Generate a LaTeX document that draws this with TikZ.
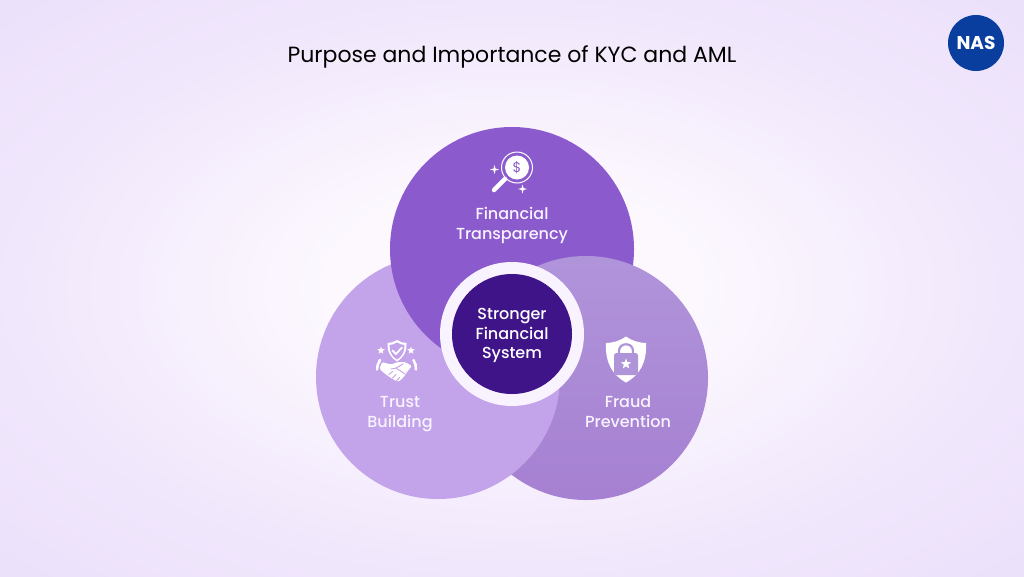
\documentclass[tikz,border=0pt]{standalone}
\usepackage{fontspec}
\setmainfont{Poppins}
\newfontfamily\labelfont{Poppins Medium}
\usetikzlibrary{shapes.geometric}
\definecolor{bgEdge}{HTML}{EADFFA}
\definecolor{bgMid}{HTML}{F1E7FC}
\definecolor{bgCore}{HTML}{FCF8FE}
\definecolor{topFill}{HTML}{8B5BCE}
\definecolor{leftFill}{HTML}{C3A3EA}
\definecolor{rightTop}{HTML}{B094DA}
\definecolor{rightLow}{HTML}{A680D2}
\definecolor{coreFill}{HTML}{3F1488}
\definecolor{ringFill}{HTML}{F8F3FE}
\definecolor{logoFill}{HTML}{0A3E9E}
\pgfdeclareradialshading{pagebg}{\pgfpoint{0bp}{0bp}}{color(0bp)=(bgCore); color(9bp)=(bgCore); color(24bp)=(bgMid); color(38bp)=(bgEdge); color(50bp)=(bgEdge)}
\tikzset{
	petal/.style={circle, minimum size=244pt, inner sep=0pt},
	petaltext/.style={align=center, text=ringFill, font=\fontsize{16}{20}\labelfont\selectfont},
	icon/.style={fill=white, draw=none},
	iconcut/.style={line cap=round, line join=round},
	spark/.style={star, star points=4, star point ratio=3.2, minimum size=9pt, inner sep=0pt, fill=white}
}
\begin{document}
\begin{tikzpicture}[x=1pt, y=-1pt]
	\useasboundingbox (0,0) rectangle (1024,576);
	\shade[shading=pagebg] (0,0) rectangle (1024,576);
	%Title and logo:
	\node[font=\fontsize{22}{26}\selectfont, text=black] (title) at (512,57) {Purpose and Importance of KYC and AML};
	\node[circle, fill=logoFill, minimum size=56pt, inner sep=0pt, text=white, font=\fontsize{18.5}{22}\selectfont\bfseries] (logo) at (976,43) {NAS};
	%Circles:
	\node[petal, fill=leftFill] (trust) at (438,377) {};
	\node[petal, fill=topFill] (transparency) at (512,249) {};
	\node[petal, top color=rightTop, bottom color=rightLow] (fraud) at (586,378) {};
	\begin{scope}
		\clip (586,378) circle (124pt);
		\fill[leftFill] (438,377) circle (122pt);
	\end{scope}
	\node[circle, fill=ringFill, minimum size=144pt, inner sep=0pt] (ring) at (512,334) {};
	\node[circle, fill=coreFill, minimum size=120pt, inner sep=0pt] (core) at (512,334) {};
	%Labels:
	\node[align=center, text=white, font=\fontsize{16}{19.5}\labelfont\selectfont] (coretext) at (512,335.5) {Stronger\\Financial\\System};
	\node[petaltext] (transparencytext) at (512,225) {Financial\\Transparency};
	\node[petaltext] (trusttext) at (400,414) {Trust\\Building};
	\node[petaltext] (fraudtext) at (628,411.5) {Fraud\\Prevention};
	%Magnifier:
	\draw[white, line width=1pt] (517,167.5) circle (15.5pt);
	\fill[white] (517,167.5) circle (12pt);
	\node[text=topFill, font=\fontsize{14}{14}\selectfont] (dollar) at (517,167.5) {\$};
	\draw[white, line width=4.5pt, line cap=round] (505,179) -- (494,190);
	\node[spark] (sparka) at (494.5,169.5) {};
	\node[spark] (sparkb) at (522.5,189) {};
	%Padlock shield:
	\fill[icon] (626,336.5) .. controls (632,341) and (640,343) .. (646,343) .. controls (647,362) and (640,375) .. (626,382.5) .. controls (612,375) and (605,362) .. (606,343) .. controls (612,343) and (620,341) .. (626,336.5) -- cycle;
	\draw[rightTop, line width=2.2pt] (619,354) -- (619,351) .. controls (619,342) and (633,342) .. (633,351) -- (633,354);
	\fill[rightTop, rounded corners=2.5pt] (614,353) rectangle (638,375);
	\node[star, star points=5, star point ratio=2.4, minimum size=11pt, inner sep=0pt, fill=white] (lockstar) at (626,364) {};
	%Handshake shield:
	\fill[icon] (397,340) .. controls (400,342) and (403,343) .. (406.5,343) .. controls (407,352) and (403,358) .. (397,361.5) .. controls (391,358) and (387,352) .. (387.5,343) .. controls (391,343) and (394,342) .. (397,340) -- cycle;
	\fill[leftFill] (397,342.5) .. controls (399.5,344) and (402,345) .. (404.5,345) .. controls (404.5,352) and (402,356.5) .. (397,359.5) .. controls (392,356.5) and (389.5,352) .. (389.5,345) .. controls (392,345) and (394.5,344) .. (397,342.5) -- cycle;
	\draw[white, line width=1.8pt, iconcut] (392.5,350.5) -- (396,354) -- (402,347.5);
	\node[spark, star points=5, star point ratio=2.4, minimum size=8pt] (starl) at (381,350.5) {};
	\node[spark, star points=5, star point ratio=2.4, minimum size=8pt] (starr) at (411,350.5) {};
	\draw[white, line width=2.5pt, line cap=round] (380,360) .. controls (378,363) and (377,366) .. (377,369.5);
	\draw[white, line width=2.5pt, line cap=round] (413.5,360) .. controls (415.5,363) and (416,366) .. (416,369.5);
	\fill[icon, rounded corners=1.5pt] (382,362) -- (391,364.5) -- (398,362) -- (405,362) -- (412,366) -- (407,372) -- (403,378) -- (398,382) -- (391,378) -- (384,373) -- (379.5,369) -- cycle;
	\draw[leftFill, line width=0.9pt, iconcut] (391,369) -- (396,368) -- (403,364) (396,368) -- (405,374) (389,374.5) -- (392.5,371.5) (392.5,378) -- (396,374.5) (396.5,381) -- (399.5,377.5);
\end{tikzpicture}
\end{document}
